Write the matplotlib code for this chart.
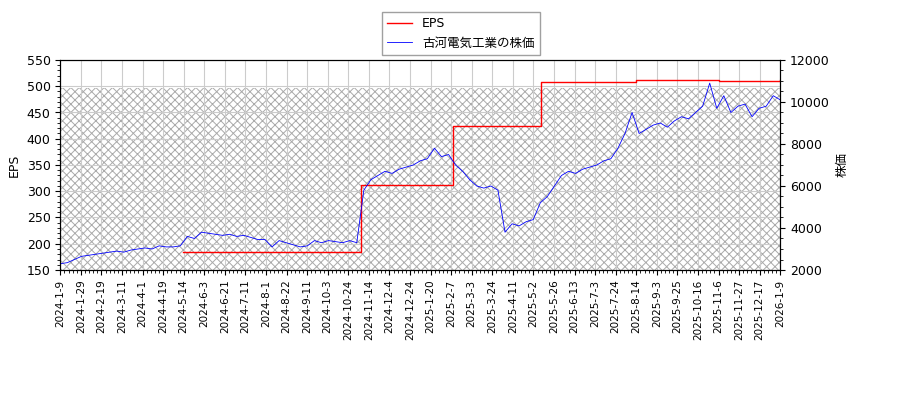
import matplotlib
matplotlib.use("Agg")
import matplotlib.pyplot as plt
import numpy as np

plt.rcParams['font.family'] = ['DejaVu Sans', 'Noto Sans CJK JP']
plt.rcParams['font.size'] = 9
plt.rcParams['hatch.color'] = '#aaaaaa'
plt.rcParams['hatch.linewidth'] = 0.7

tick_labels = ["2024-1-9", "2024-1-29", "2024-2-19", "2024-3-11", "2024-4-1", "2024-4-19",
               "2024-5-14", "2024-6-3", "2024-6-21", "2024-7-11", "2024-8-1", "2024-8-22",
               "2024-9-11", "2024-10-3", "2024-10-24", "2024-11-14", "2024-12-4", "2024-12-24",
               "2025-1-20", "2025-2-7", "2025-3-3", "2025-3-24", "2025-4-11", "2025-5-2",
               "2025-5-26", "2025-6-13", "2025-7-3", "2025-7-24", "2025-8-14", "2025-9-3",
               "2025-9-25", "2025-10-16", "2025-11-6", "2025-11-27", "2025-12-17", "2026-1-9"]

# EPS steps, positions in tick-label units (trading-day axis)
eps_pos = [5.95, 14.55, 14.6, 19.05, 19.1, 23.3, 23.35, 28.0, 32.0, 35.0]
eps_values = [184, 184, 312, 312, 425, 425, 509, 511, 510, 511]

# weekly stock price
price_values = [
    2300, 2350, 2500, 2650,
    2700, 2750, 2800, 2850,
    2900, 2850, 2950, 3000,
    3050, 3000, 3150, 3100,
    3100, 3150, 3600, 3500, 3800,
    3750, 3700, 3650, 3700,
    3600, 3650, 3550, 3450,
    3450, 3100, 3400, 3300, 3200,
    3100, 3150, 3400, 3300,
    3400, 3350, 3300, 3400, 3300,
    5800, 6300, 6500, 6700,
    6600, 6800, 6900, 7000,
    7200, 7300, 7800, 7400,
    7500, 7000, 6700, 6300,
    6000, 5900, 6000, 5800,
    3800, 4200, 4100, 4300,
    4400, 5200, 5500, 6000,
    6500, 6700, 6600, 6800,
    6900, 7000, 7200, 7300,
    7800, 8500, 9500, 8500,
    8700, 8900, 9000, 8800, 9100,
    9300, 9200, 9500, 9800,
    10900, 9700, 10300, 9500,
    9800, 9900, 9300, 9700, 9800,
    10300, 10100,
]

n_ticks = len(tick_labels)
price_pos = np.linspace(0, n_ticks - 1, len(price_values))

fig = plt.figure(figsize=(9, 4), dpi=100)
ax = fig.add_axes([0.067, 0.325, 0.8, 0.525])
ax2 = ax.twinx()

ax.fill_between([0, n_ticks - 1], 150, 497, facecolor='white', edgecolor='#aaaaaa',
                hatch='xxxx', linewidth=0, zorder=0)
l1, = ax.step(eps_pos, eps_values, where='post', color='red', linewidth=1, label='EPS')
l2, = ax2.plot(price_pos, price_values, color='blue', linewidth=0.6, label='古河電気工業の株価')

ax.set_ylim(150, 550)
ax2.set_ylim(2000, 12000)
ax.set_xlim(0, n_ticks - 1)
ax.set_yticks(np.arange(150, 551, 50))
ax.set_ylabel('EPS')
ax2.set_ylabel('株価')
ax.set_xticks(np.arange(n_ticks))
ax.set_xticklabels(tick_labels, rotation=90, fontsize=7.5)
ax.grid(True, color='#cccccc', linewidth=0.8)
ax.set_axisbelow(True)
ax.minorticks_on()
ax.xaxis.set_minor_locator(plt.NullLocator())
ax2.minorticks_on()

fig.legend(handles=[l1, l2], loc='upper center', bbox_to_anchor=(0.512, 0.985),
           fancybox=False, edgecolor='#888888')

fig.savefig("out.png")
